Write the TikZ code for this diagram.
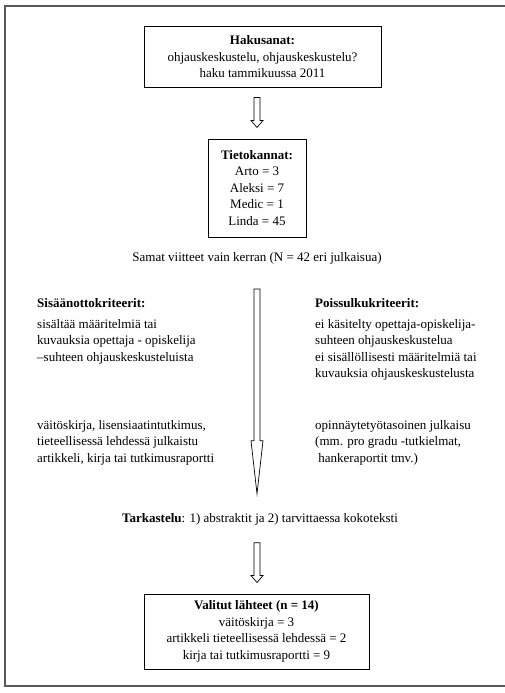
\documentclass[tikz,border=0pt]{standalone}
\usepackage{fontspec}
\setmainfont{Liberation Serif}
\usetikzlibrary{calc}

\tikzset{
  every node/.style={font=\fontsize{13}{16.5}\selectfont, inner sep=0pt},
  stagebox/.style={draw, line width=1pt, align=center},
  coltext/.style={anchor=base west, align=left},
  arrowline/.style={draw, line width=0.7pt, line join=miter},
  frameline/.style={draw=black!65, line width=1.3pt}
}

% hollow block arrow: from, to, head length
\newcommand{\hollowarrow}[3]{%
  \draw[arrowline] ($(#1)+(-3,0)$) -- ($(#2)+(-3,-#3)$) -- ($(#2)+(-6,-#3)$) -- (#2)
    -- ($(#2)+(6,-#3)$) -- ($(#2)+(3,-#3)$) -- ($(#1)+(3,0)$) -- cycle;}

\begin{document}
\begin{tikzpicture}[x=1pt,y=-1pt]
  \useasboundingbox (0,0) rectangle (505,693);
  \draw[frameline] (505,6) -- (5,6) -- (5,686) -- (505,686);

  \node[stagebox, minimum width=237, minimum height=60] (haku) at (262.5,57)
    {\textbf{Hakusanat:}\\ohjauskeskustelu, ohjauskeskustelu?\\haku tammikuussa 2011};
  \node[stagebox, minimum width=98, minimum height=98] (tieto) at (257,188)
    {\textbf{Tietokannat:}\\Arto = 3\\Aleksi = 7\\Medic = 1\\Linda = 45};
  \node[anchor=base] (samat) at (257,261)
    {Samat viitteet vain kerran (N = 42 eri julkaisua)};

  % multi-line texts are placed by their last baseline
  \node[coltext] (sisaan) at (37,307) {\textbf{Sisäänottokriteerit:}};
  \node[coltext] (sisaan1) at (37,361)
    {sisältää määritelmiä tai\\kuvauksia opettaja - opiskelija\\–suhteen ohjauskeskusteluista};
  \node[coltext] (sisaan2) at (37,462)
    {väitöskirja, lisensiaatintutkimus,\\tieteellisessä lehdessä julkaistu\\artikkeli, kirja tai tutkimusraportti};

  \node[coltext] (poissulku) at (315,307) {\textbf{Poissulkukriteerit:}};
  \node[coltext] (poissulku1) at (315,377.5)
    {ei käsitelty opettaja-opiskelija-\\suhteen ohjauskeskustelua\\ei sisällöllisesti määritelmiä tai\\kuvauksia ohjauskeskustelusta};
  \node[coltext] (poissulku2) at (315,462)
    {opinnäytetyötasoinen julkaisu\\(mm. pro gradu -tutkielmat,\\\ hankeraportit tmv.)};

  \node[anchor=base] (tarkastelu) at (260,522)
    {\textbf{Tarkastelu}: 1) abstraktit ja 2) tarvittaessa kokoteksti};

  \node[stagebox, minimum width=225, minimum height=75] (valitut) at (256.5,631.5)
    {\textbf{Valitut lähteet (n = 14)}\\väitöskirja = 3\\artikkeli tieteellisessä lehdessä = 2\\kirja tai tutkimusraportti = 9};

  % arrow end points
  \coordinate (a1s) at ([yshift=-10pt]haku.south -| tieto.north);
  \coordinate (a1e) at ([yshift=11pt]tieto.north);
  \coordinate (a2s) at ([yshift=-25pt]samat.south -| tieto.south);
  \coordinate (a2e) at ([yshift=19pt]tarkastelu.north -| tieto.south);
  \coordinate (a3s) at ([yshift=-30pt]tarkastelu.north -| tieto.south);
  \coordinate (a3e) at ([yshift=11pt]valitut.north -| tieto.south);

  \hollowarrow{a1s}{a1e}{7}
  \hollowarrow{a2s}{a2e}{53}
  \hollowarrow{a3s}{a3e}{7}
\end{tikzpicture}
\end{document}
